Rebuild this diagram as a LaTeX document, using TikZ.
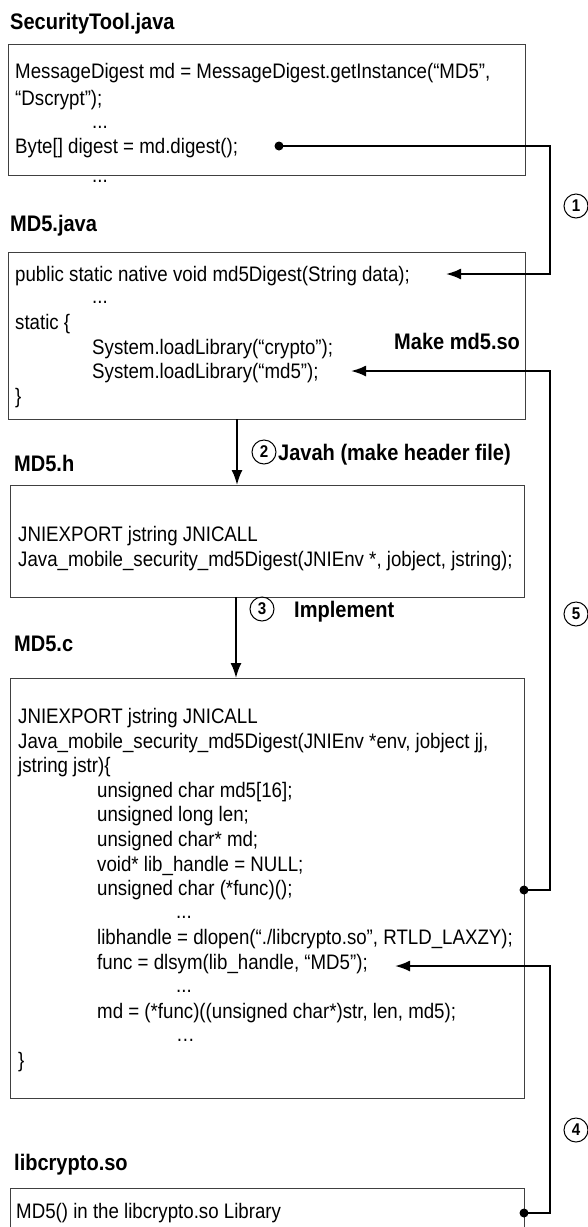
\documentclass[tikz,border=0pt]{standalone}
\usepackage{fontspec}
\setmainfont{Liberation Sans}[FakeStretch=0.89]
\usetikzlibrary{arrows.meta}
\begin{document}
\begin{tikzpicture}[x=1pt,y=-1pt,
  box/.style={draw=black!75, line width=1pt},
  code/.style={anchor=west, inner sep=0pt, text height=15pt, text depth=0pt, font=\fontsize{21}{24}\selectfont},
  ttl/.style={anchor=west, inner sep=0pt, text height=16pt, text depth=0pt, font=\fontsize{22.5}{26}\selectfont\bfseries},
  num/.style={circle, draw, line width=1pt, minimum size=24pt, inner sep=0pt, font=\fontsize{17}{17}\selectfont\bfseries},
  conn/.style={line width=2pt},
  arr/.style={line width=2pt, -{Latex[length=15pt,width=11pt]}},
  dotn/.style={circle, fill, inner sep=0pt, minimum size=9pt}
]
\useasboundingbox (0,0) rectangle (588,1227);
\fill[white] (0,0) rectangle (588,1227);

% ---------- boxes ----------
\draw[box] (8,44) rectangle (525,175);
\draw[box] (8,252) rectangle (525,419);
\draw[box] (10,485) rectangle (524,597);
\draw[box] (10,678) rectangle (524,1098);
\draw[box] (10,1240) -- (10,1188) -- (524,1188) -- (524,1240);

% ---------- titles ----------
\node[ttl] (t1) at (10,21) {SecurityTool.java};
\node[ttl] (t2) at (10,223) {MD5.java};
\node[ttl] (t3) at (14,463) {MD5.h};
\node[ttl] (t4) at (14,643) {MD5.c};
\node[ttl] (t5) at (14,1162) {libcrypto.so};

% ---------- SecurityTool.java ----------
\node[code] (a1) at (15,71) {MessageDigest md = MessageDigest.getInstance(“MD5”,};
\node[code] (a2) at (15,98) {“Dscrypt”);};
\node[code] (a3) at (92,121) {...};
\node[code] (a4) at (15,146) {Byte[] digest = md.digest();};
\node[code] (a5) at (92,175) {...};

% ---------- MD5.java ----------
\node[code] (b1) at (15,274) {public static native void md5Digest(String data);};
\node[code] (b2) at (92,296) {...};
\node[code] (b3) at (15,322) {static \{};
\node[code] (b4) at (92,347) {System.loadLibrary(“crypto”);};
\node[code] (b5) at (92,371) {System.loadLibrary(“md5”);};
\node[code] (b6) at (15,396) {\}};
\node[ttl] (mk) at (394,341) {Make md5.so};

% ---------- MD5.h ----------
\node[code] (c1) at (18,534) {JNIEXPORT jstring JNICALL};
\node[code] (c2) at (18,559) {Java\_mobile\_security\_md5Digest(JNIEnv *, jobject, jstring);};

% ---------- MD5.c ----------
\node[code] (d1)  at (18,716)   {JNIEXPORT jstring JNICALL};
\node[code] (d2)  at (18,740.6) {Java\_mobile\_security\_md5Digest(JNIEnv *env, jobject jj,};
\node[code] (d3)  at (18,765.2) {jstring jstr)\{};
\node[code] (d4)  at (97,789.8) {unsigned char md5[16];};
\node[code] (d5)  at (97,814.4) {unsigned long len;};
\node[code] (d6)  at (97,839)   {unsigned char* md;};
\node[code] (d7)  at (97,863.6) {void* lib\_handle = NULL;};
\node[code] (d8)  at (97,888.2) {unsigned char (*func)();};
\node[code] (d9)  at (176,910.8) {...};
\node[code] (d10) at (97,937.4) {libhandle = dlopen(“./libcrypto.so”, RTLD\_LAXZY);};
\node[code] (d11) at (97,962)   {func = dlsym(lib\_handle, “MD5”);};
\node[code] (d12) at (176,984.6) {...};
\node[code] (d13) at (97,1011.2) {md = (*func)((unsigned char*)str, len, md5);};
\node[code] (d14) at (176,1033.8) {…};
\node[code] (d15) at (18,1060.4) {\}};

% ---------- libcrypto.so ----------
\node[code] (e1) at (16,1211) {MD5() in the libcrypto.so Library};

% ---------- step labels ----------
\node[num] (n1) at (576,206) {1};
\node[num] (n2) at (264,452) {2};
\node[ttl] (l2) at (278,452) {Javah (make header file)};
\node[num] (n3) at (262,609) {3};
\node[ttl] (l3) at (294,609) {Implement};
\node[num] (n4) at (576,1130) {4};
\node[num] (n5) at (576,614) {5};

% ---------- connector points ----------
\node[dotn] (p1) at (279,146) {};
\coordinate (q1) at (446,274);
\node[dotn] (p5) at (524,890) {};
\coordinate (q5) at (351,371);
\node[dotn] (p4) at (524,1213) {};
\coordinate (q4) at (395,966);
\coordinate (s2) at (237,419);
\coordinate (e2) at (237,485);
\coordinate (s3) at (236,597);
\coordinate (e3) at (236,678);

% ---------- connectors ----------
\draw[arr] (p1.center) -| (550,274) -- (q1);
\draw[arr] (p5.center) -| (550,371) -- (q5);
\draw[arr] (p4.center) -| (550,966) -- (q4);
\draw[arr] (s2) -- (e2);
\draw[arr] (s3) -- (e3);
\end{tikzpicture}
\end{document}
